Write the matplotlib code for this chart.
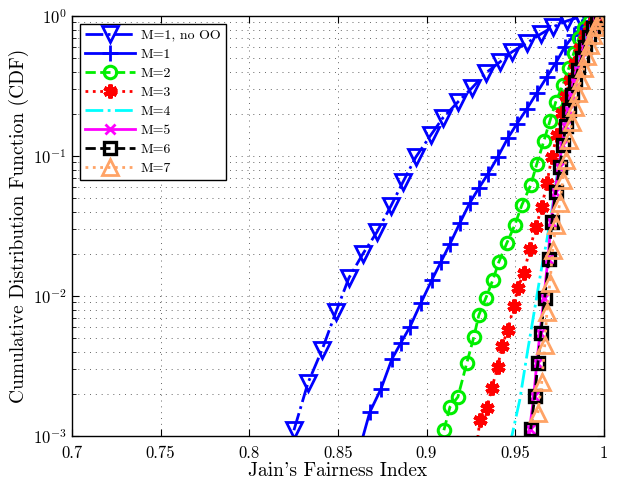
import matplotlib
matplotlib.use("Agg")
import matplotlib.pyplot as plt
from matplotlib.ticker import LogLocator, FixedLocator

plt.rcParams['font.family'] = ['cmr10', 'DejaVu Serif']
plt.rcParams['mathtext.fontset'] = 'cm'
plt.rcParams['axes.formatter.use_mathtext'] = True

labels = ["M=1, no OO", "M=1", "M=2", "M=3", "M=4", "M=5", "M=6", "M=7"]

x_nooo = [0.8252, 0.8331, 0.8410, 0.8489, 0.8562, 0.8641, 0.8720, 0.8799, 0.8867, 0.8940,
          0.9024, 0.9092, 0.9177, 0.9256, 0.9335, 0.9414, 0.9481, 0.9566, 0.9645, 0.9712,
          0.9791, 0.9865, 0.9932]
y_nooo = [0.00110, 0.00239, 0.00411, 0.00769, 0.01345, 0.0200, 0.0286, 0.0439, 0.0652, 0.0984,
          0.141, 0.187, 0.243, 0.306, 0.392, 0.469, 0.553, 0.641, 0.744, 0.834,
          0.921, 0.984, 1.0]

x_m1 = [0.8621, 0.8680, 0.8743, 0.8805, 0.8855, 0.8906, 0.8968, 0.9030, 0.9081, 0.9132,
        0.9188, 0.9244, 0.9295, 0.9346, 0.9402, 0.9459, 0.9509, 0.9566, 0.9622, 0.9679,
        0.9729, 0.9780, 0.9831, 0.9876, 0.9915, 0.9955]
y_m1 = [0.0008, 0.00148, 0.00217, 0.00355, 0.00462, 0.0060, 0.0089, 0.0130, 0.0175, 0.0235,
        0.0332, 0.0462, 0.059, 0.0743, 0.0984, 0.1345, 0.169, 0.217, 0.282, 0.367,
        0.462, 0.601, 0.732, 0.834, 0.921, 0.984]

x_m2 = [0.9098, 0.9132, 0.9177, 0.9227, 0.9267, 0.9295, 0.9335, 0.9374, 0.9408, 0.9453,
        0.9498, 0.9538, 0.9588, 0.9622, 0.9662, 0.9696, 0.9729, 0.9769, 0.9803, 0.9831,
        0.9859, 0.9887, 0.9921, 0.9955]
y_m2 = [0.00110, 0.00161, 0.00190, 0.00332, 0.0051, 0.0073, 0.0097, 0.0130, 0.0175, 0.0239,
        0.0321, 0.0447, 0.0621, 0.0877, 0.128, 0.178, 0.243, 0.321, 0.425, 0.544,
        0.697, 0.821, 0.921, 0.984]

x_m3 = [0.9284, 0.9301, 0.9340, 0.9368, 0.9402, 0.9425, 0.9459, 0.9492, 0.9515, 0.9549,
        0.9583, 0.9617, 0.9650, 0.9679, 0.9707, 0.9735, 0.9763, 0.9786, 0.9808, 0.9837,
        0.9865, 0.9893, 0.9921, 0.9949, 0.9977]
y_m3 = [0.00086, 0.0013, 0.00158, 0.0022, 0.00311, 0.0044, 0.0057, 0.0085, 0.0114, 0.0146,
        0.0217, 0.0311, 0.0432, 0.0641, 0.0984, 0.141, 0.203, 0.268, 0.349, 0.462,
        0.59, 0.732, 0.848, 0.936, 1.0]

x_m4 = [0.9470, 0.9526, 0.9571, 0.9611, 0.9645, 0.9679, 0.9712, 0.9741, 0.9769, 0.9797,
        0.9825, 0.9853, 0.9887, 0.9921, 0.9961, 0.9989]
y_m4 = [0.00086, 0.00181, 0.00411, 0.0082, 0.0148, 0.0251, 0.0447, 0.0794, 0.130, 0.213,
        0.321, 0.485, 0.674, 0.834, 0.968, 1.0]

x_m5 = [0.9578, 0.9582, 0.9605, 0.9622, 0.9640, 0.9662, 0.9685, 0.9702, 0.9724, 0.9747,
        0.9765, 0.9782, 0.9799, 0.9816, 0.9833, 0.9850, 0.9873, 0.9890, 0.9912, 0.9935,
        0.9958, 0.9982]
y_m5 = [0.00090, 0.00112, 0.00193, 0.00332, 0.00544, 0.0097, 0.0184, 0.0338, 0.0553, 0.0834,
        0.12, 0.164, 0.213, 0.273, 0.338, 0.411, 0.501, 0.601, 0.708, 0.821,
        0.921, 1.0]

x_m6 = [0.9588, 0.9611, 0.9628, 0.9645, 0.9667, 0.9690, 0.9707, 0.9729, 0.9752, 0.9769,
        0.9786, 0.9803, 0.9820, 0.9837, 0.9853, 0.9876, 0.9893, 0.9915, 0.9938, 0.9961,
        0.9983]
y_m6 = [0.00112, 0.00193, 0.00332, 0.00544, 0.0097, 0.0184, 0.0338, 0.0553, 0.0834, 0.12,
        0.164, 0.213, 0.273, 0.338, 0.411, 0.501, 0.601, 0.708, 0.821, 0.921,
        1.0]

x_m7 = [0.9628, 0.9650, 0.9667, 0.9679, 0.9696, 0.9712, 0.9729, 0.9752, 0.9769, 0.9786,
        0.9803, 0.9820, 0.9837, 0.9853, 0.9870, 0.9887, 0.9904, 0.9921, 0.9938, 0.9955,
        0.9972, 0.9989]
y_m7 = [0.00146, 0.00243, 0.00447, 0.00769, 0.0124, 0.0213, 0.0321, 0.0462, 0.0674, 0.0936,
        0.130, 0.175, 0.224, 0.282, 0.349, 0.425, 0.518, 0.621, 0.732, 0.834,
        0.936, 1.0]

xticks = [0.7, 0.75, 0.8, 0.85, 0.9, 0.95, 1.0]
xticklabels = ["0.7", "0.75", "0.8", "0.85", "0.9", "0.95", "1"]

fig = plt.figure(figsize=(6.18, 4.83), dpi=100)
ax = fig.add_axes([0.1165, 0.0973, 0.8605, 0.8696])

orange = '#FFA366'
lw = 2.0
ax.plot(x_nooo, y_nooo, color='blue', ls='-.', lw=lw, marker='v', ms=11, mfc='none', mew=2, label=labels[0])
ax.plot(x_m1, y_m1, color='blue', ls='-', lw=lw, marker='+', ms=11, mew=2, label=labels[1])
ax.plot(x_m2, y_m2, color='#00EE00', ls='--', lw=lw, marker='o', ms=9, mfc='none', mew=2.2, label=labels[2])
ax.plot(x_m3, y_m3, color='red', ls=':', lw=lw, marker=(6, 2, 0), ms=10, mew=3, label=labels[3])
ax.plot(x_m4, y_m4, color='cyan', ls='-.', lw=lw, label=labels[4])
ax.plot(x_m5, y_m5, color='magenta', ls='-', lw=lw, marker='x', ms=7, mew=2, label=labels[5])
ax.plot(x_m6, y_m6, color='black', ls='--', lw=lw, marker='s', ms=8, mfc='none', mew=2.4, label=labels[6])
ax.plot(x_m7, y_m7, color=orange, ls=':', lw=lw, marker='^', ms=12, mfc='none', mew=2, label=labels[7])

ax.set_yscale('log')
ax.set_xlim(0.7, 1.0)
ax.set_ylim(1e-3, 1.0)
ax.xaxis.set_major_locator(FixedLocator(xticks))
ax.set_xticklabels(xticklabels)
ax.yaxis.set_major_locator(LogLocator(base=10, numticks=10))
ax.yaxis.set_minor_locator(LogLocator(base=10, subs=range(2, 10), numticks=20))

grid_kw = dict(ls=(0, (1, 5)), color='#666666', lw=0.7)
ax.grid(True, which='major', **grid_kw)
ax.grid(True, which='minor', axis='y', **grid_kw)
ax.tick_params(which='both', direction='in', top=True, right=True, labelsize=12)
ax.tick_params(which='major', length=5)
ax.tick_params(which='minor', length=3)
ax.tick_params(axis='x', pad=7)
ax.tick_params(axis='y', pad=4)
for s in ax.spines.values():
    s.set_linewidth(1.0)

ax.set_xlabel("Jain's Fairness Index", fontsize=14, labelpad=1)
ax.set_ylabel("Cumulative Distribution Function (CDF)", fontsize=14, labelpad=3)

leg = ax.legend(loc='upper left', fontsize=10, handlelength=3.6, labelspacing=0.45,
                borderpad=0.4, handletextpad=0.4, fancybox=False, framealpha=1,
                edgecolor='black', borderaxespad=0.55)
leg.get_frame().set_linewidth(1.0)

fig.savefig("out.png", dpi=100)
